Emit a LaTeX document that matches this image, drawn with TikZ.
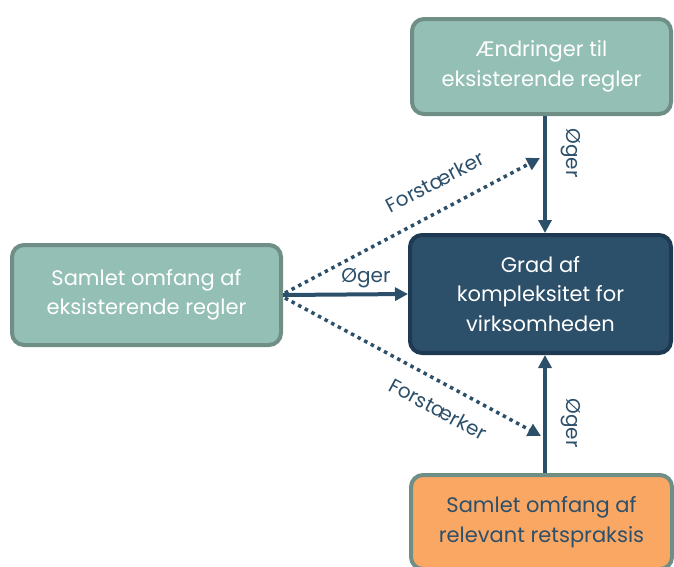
\documentclass[tikz,border=0pt]{standalone}
\usepackage{fontspec}
\setmainfont{Poppins}
\usetikzlibrary{arrows.meta}
\definecolor{tealfill}{HTML}{94BFB5}
\definecolor{tealedge}{HTML}{6E8E86}
\definecolor{navy}{HTML}{2C4F6A}
\definecolor{navyedge}{HTML}{1E3A52}
\definecolor{orangefill}{HTML}{FBA764}
\tikzset{
  box/.style={rectangle, rounded corners=12pt, line width=4pt, align=center,
    font=\fontsize{21}{29.5}\selectfont, inner sep=0pt},
  tealbox/.style={box, fill=tealfill, draw=tealedge, text=white},
  navybox/.style={box, fill=navy, draw=navyedge, text=white},
  orangebox/.style={box, fill=orangefill, draw=tealedge, text=navy},
  solidarrow/.style={draw=navy, line width=4pt, -{Triangle[length=13pt,width=13pt]}},
  dotarrow/.style={draw=navy, line width=3.5pt, dash pattern=on 3.5pt off 4pt, -{Triangle[length=13pt,width=13pt]}},
  lbl/.style={font=\fontsize{20}{22}\selectfont, text=navy, inner sep=0pt}
}
\begin{document}
\begin{tikzpicture}[x=1pt,y=-1pt]
\useasboundingbox (0,0) rectangle (674,566);
\clip (0,0) rectangle (674,566);
\node[tealbox, minimum width=259pt, minimum height=95pt] (top) at (541.5,66.5) {Ændringer til\\eksisterende regler};
\node[navybox, minimum width=261pt, minimum height=118pt] (grad) at (540.5,294) {Grad af\\kompleksitet for\\virksomheden};
\node[tealbox, minimum width=269pt, minimum height=100pt] (left) at (146.5,295) {Samlet omfang af\\eksisterende regler};
\node[orangebox, minimum width=261pt, minimum height=94pt] (bot) at (541.5,522) {Samlet omfang af\\relevant retspraksis};
\coordinate (srcU) at (285,293);
\coordinate (srcD) at (285,298);
\coordinate (tipU) at (540,158);
\coordinate (tipD) at (541,436);
\draw[solidarrow] (top.south -| 545,0) -- (grad.north -| 545,0);
\draw[solidarrow] (bot.north -| 545,0) -- (grad.south -| 545,0);
\draw[solidarrow] (left.east) -- (grad.west);
\draw[dotarrow] (srcU) -- (tipU);
\draw[dotarrow] (srcD) -- (tipD);
\node[lbl] (l1) at (366,278) {Øger};
\node[lbl, rotate=-90] (l2) at (571,153) {Øger};
\node[lbl, rotate=-90] (l3) at (571,423) {Øger};
\node[lbl, rotate=27.8] (l4) at (435,182) {Forstærker};
\node[lbl, rotate=-28.2] (l5) at (438,409) {Forstærker};
\end{tikzpicture}
\end{document}
